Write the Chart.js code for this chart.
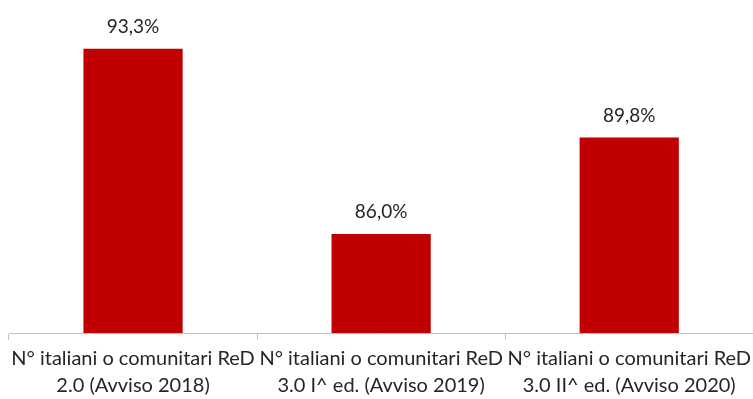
<!DOCTYPE html>
<html>
<head>
<meta charset="utf-8">
<script src="https://cdn.jsdelivr.net/npm/chart.js@4.4.0/dist/chart.umd.min.js"></script>
<style>
  html, body { margin: 0; padding: 0; background: #fff; }
  #wrap { width: 753px; height: 399px; overflow: hidden; position: relative; }
  #box { width: 756px; height: 399px; position: absolute; left: 0; top: 0; }
</style>
</head>
<body>
<div id="wrap"><div id="box"><canvas id="chart"></canvas></div></div>
<script>
// categories (two lines each, like the source)
const categories = [
  ["N° italiani o comunitari ReD", "2.0 (Avviso 2018)"],
  ["N° italiani o comunitari ReD", "3.0 I^ ed. (Avviso 2019)"],
  ["N° italiani o comunitari ReD", "3.0 II^ ed. (Avviso 2020)"]
];
const values = [93.3, 86.0, 89.8];
const valueLabels = ["93,3%", "86,0%", "89,8%"];

// draws the % above each bar
const topLabels = {
  id: "topLabels",
  afterDatasetsDraw(chart) {
    const ctx = chart.ctx;
    const meta = chart.getDatasetMeta(0);
    ctx.save();
    ctx.font = "19px Lato";
    ctx.fillStyle = "#262626";
    ctx.textAlign = "center";
    ctx.textBaseline = "middle";
    meta.data.forEach((bar, i) => {
      ctx.fillText(valueLabels[i], bar.x, bar.y - 22);
    });
    ctx.restore();
  }
};

new Chart(document.getElementById("chart"), {
  type: "bar",
  data: {
    labels: categories,
    datasets: [{
      data: values,
      backgroundColor: "#C00000",
      borderWidth: 0,
      categoryPercentage: 1,
      barPercentage: 0.4
    }]
  },
  options: {
    responsive: true,
    maintainAspectRatio: false,
    animation: false,
    layout: { padding: { left: 9, right: 0, top: 31, bottom: 0 } },
    plugins: { legend: { display: false }, tooltip: { enabled: false } },
    scales: {
      y: { display: false, min: 82.1, max: 94 },
      x: {
        afterFit: (scale) => { scale.height = 66; },
        grid: { drawOnChartArea: false, color: "#bfbfbf", tickLength: 7, offset: true },
        border: { color: "#bfbfbf", width: 1 },
        ticks: {
          color: "#262626",
          font: { family: "Lato", size: 20, lineHeight: 1.35 },
          padding: 5,
          maxRotation: 0,
          autoSkip: false
        }
      }
    }
  },
  plugins: [topLabels]
});
</script>
</body>
</html>
